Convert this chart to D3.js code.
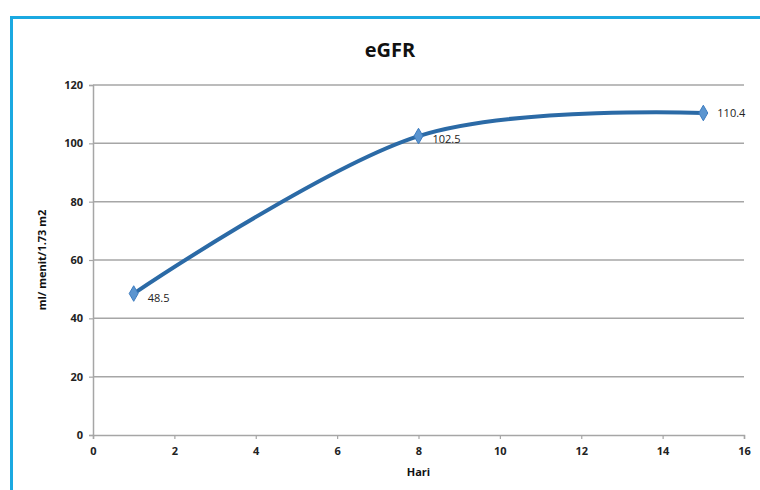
<!DOCTYPE html>
<html>
<head>
<meta charset="utf-8">
<script src="https://cdn.jsdelivr.net/npm/d3@7"></script>
<style>
  html, body { margin: 0; padding: 0; background: #fff; }
  svg { display: block; font-family: "Open Sans", "Liberation Sans", sans-serif; }
</style>
</head>
<body>
<div id="chart"></div>
<script>
// eGFR over days, smoothed line with diamond markers
const days = [1, 8, 15];
const egfr = [48.5, 102.5, 110.4];
const xTicks = [0, 2, 4, 6, 8, 10, 12, 14, 16];
const yTicks = [0, 20, 40, 60, 80, 100, 120];

const width = 760, height = 490;
const plot = { left: 93, right: 744, top: 85, bottom: 435 };

const svg = d3.select('#chart').append('svg')
    .attr('width', width)
    .attr('height', height);

// blue frame
svg.append('rect')
    .attr('x', 11.5).attr('y', 17.5)
    .attr('width', 760).attr('height', 490)
    .attr('fill', 'none')
    .attr('stroke', '#1ba9e1')
    .attr('stroke-width', 3);

const x = d3.scaleLinear().domain([0, 16]).range([plot.left, plot.right]);
const y = d3.scaleLinear().domain([0, 120]).range([plot.bottom, plot.top]);

// gridlines
svg.append('g')
    .selectAll('line')
    .data(yTicks.filter(d => d > 0))
    .enter().append('line')
    .attr('x1', plot.left).attr('x2', plot.right)
    .attr('y1', d => y(d)).attr('y2', d => y(d))
    .attr('stroke', '#a6a6a6')
    .attr('stroke-width', 1.5);

// axes
const xAxis = svg.append('g')
    .attr('transform', `translate(0,${plot.bottom})`)
    .call(d3.axisBottom(x).tickValues(xTicks).tickSize(4).tickPadding(8));
const yAxis = svg.append('g')
    .attr('transform', `translate(${plot.left},0)`)
    .call(d3.axisLeft(y).tickValues(yTicks).tickSize(4).tickPadding(6));

[xAxis, yAxis].forEach(g => {
    g.select('.domain').attr('stroke', '#a6a6a6').attr('stroke-width', 1.5);
    g.selectAll('.tick line').attr('stroke', '#a6a6a6').attr('stroke-width', 1.2);
    g.selectAll('.tick text')
        .attr('fill', '#222')
        .attr('font-size', '11px')
        .attr('font-weight', 'bold')
        .style('font-family', '"Open Sans", "Liberation Sans", sans-serif');
});

// title and axis labels
svg.append('text')
    .attr('x', 390).attr('y', 57)
    .attr('text-anchor', 'middle')
    .attr('font-size', '20px')
    .attr('font-weight', 'bold')
    .attr('fill', '#111')
    .text('eGFR');

svg.append('text')
    .attr('x', (plot.left + plot.right) / 2).attr('y', 476)
    .attr('text-anchor', 'middle')
    .attr('font-size', '11px')
    .attr('font-weight', 'bold')
    .attr('fill', '#111')
    .text('Hari');

svg.append('text')
    .attr('transform', `translate(46,${(plot.top + plot.bottom) / 2}) rotate(-90)`)
    .attr('text-anchor', 'middle')
    .attr('font-size', '11px')
    .attr('font-weight', 'bold')
    .attr('fill', '#111')
    .text('ml/ menit/1.73 m2');

// series
const pts = days.map((d, i) => ({ day: d, val: egfr[i] }));

// Excel-style smoothing ~ uniform Catmull-Rom
const line = d3.line()
    .x(d => x(d.day))
    .y(d => y(d.val))
    .curve(d3.curveCardinal.tension(0));

svg.append('path')
    .datum(pts)
    .attr('d', line)
    .attr('fill', 'none')
    .attr('stroke', '#2b6aa6')
    .attr('stroke-width', 4)
    .attr('stroke-linecap', 'round');

svg.append('g')
    .selectAll('path')
    .data(pts)
    .enter().append('path')
    .attr('d', d3.symbol(d3.symbolDiamond, 70))
    .attr('transform', d => `translate(${x(d.day)},${y(d.val)})`)
    .attr('fill', '#5b95d0')
    .attr('stroke', '#3d7cc0')
    .attr('stroke-width', 1);

const labelDy = [8, 7, 4];
svg.append('g')
    .selectAll('text')
    .data(pts)
    .enter().append('text')
    .attr('x', d => x(d.day) + 14)
    .attr('y', (d, i) => y(d.val) + labelDy[i])
    .attr('font-size', '11px')
    .attr('fill', '#222')
    .text(d => d.val);
</script>
</body>
</html>
